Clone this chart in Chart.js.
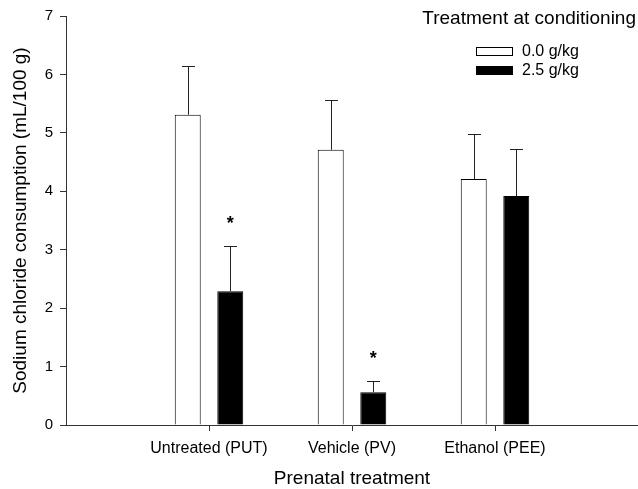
<!DOCTYPE html>
<html>
<head>
<meta charset="utf-8">
<script src="https://cdn.jsdelivr.net/npm/chart.js@4/dist/chart.umd.min.js"></script>
<style>
    body { margin: 0; background: #fff; }
    #wrap { width: 638px; height: 489px; }
</style>
</head>
<body>
<div id="wrap"><canvas id="salt-chart" width="638" height="489"></canvas></div>
<script>
// Dane
const categories = ['Untreated (PUT)', 'Vehicle (PV)', 'Ethanol (PEE)'];
const groupLabels = ['0.0 g/kg', '2.5 g/kg'];
const dose0 = [5.31, 4.71, 4.21];
const dose0Err = [0.84, 0.86, 0.77];
const dose25 = [2.29, 0.56, 3.92];
const dose25Err = [0.77, 0.19, 0.80];
const dose25Star = [true, true, false];
const yTicks = [0, 1, 2, 3, 4, 5, 6, 7];

const FONT = "'Liberation Sans', Arial, sans-serif";
const INK = '#000';
const AXIS = '#333';

Chart.defaults.font.family = FONT;
Chart.defaults.color = INK;

function toPoints(values) {
    return values.map((v, i) => ({ x: i + 1, y: v }));
}

// Slupki bledow (tylko gorne) i gwiazdki
const errorBars = {
    id: 'errorBars',
    afterDatasetsDraw(chart) {
        const ctx = chart.ctx;
        const y = chart.scales.y;
        const errs = [dose0Err, dose25Err];
        ctx.save();
        ctx.strokeStyle = '#222';
        ctx.lineWidth = 1;
        chart.data.datasets.forEach((ds, di) => {
            const meta = chart.getDatasetMeta(di);
            meta.data.forEach((bar, i) => {
                const top = y.getPixelForValue(ds.data[i].y + errs[di][i]);
                const x = Math.round(bar.x) + 0.5;
                ctx.beginPath();
                ctx.moveTo(x, bar.y);
                ctx.lineTo(x, Math.round(top) + 0.5);
                ctx.moveTo(x - 6.5, Math.round(top) + 0.5);
                ctx.lineTo(x + 6.5, Math.round(top) + 0.5);
                ctx.stroke();
                if (di === 1 && dose25Star[i]) {
                    ctx.fillStyle = INK;
                    ctx.font = 'bold 18px ' + FONT;
                    ctx.textAlign = 'center';
                    ctx.textBaseline = 'alphabetic';
                    ctx.fillText('*', bar.x, top - 27 + 10);
                }
            });
        });
        ctx.restore();
    }
};

// Legenda w prawym gornym rogu
const legendBox = {
    id: 'legendBox',
    afterDraw(chart) {
        const ctx = chart.ctx;
        ctx.save();
        ctx.fillStyle = INK;
        ctx.font = '19px ' + FONT;
        ctx.textAlign = 'right';
        ctx.textBaseline = 'middle';
        ctx.fillText('Treatment at conditioning', 636, 19);

        ctx.font = '16px ' + FONT;
        ctx.textAlign = 'left';
        chart.data.datasets.forEach((ds, i) => {
            const top = 47 + i * 19;
            ctx.fillStyle = ds.backgroundColor;
            ctx.fillRect(476, top, 37, 9);
            ctx.strokeStyle = INK;
            ctx.lineWidth = 1;
            ctx.strokeRect(476.5, top + 0.5, 36, 8);
            ctx.fillStyle = INK;
            ctx.fillText(ds.label, 522, top + 5);
        });
        ctx.restore();
    }
};

document.addEventListener('DOMContentLoaded', () => {
    const ctx = document.getElementById('salt-chart').getContext('2d');

    new Chart(ctx, {
        type: 'bar',
        data: {
            datasets: [{
                label: groupLabels[0],
                data: toPoints(dose0),
                backgroundColor: '#fff',
                borderColor: INK,
                borderWidth: 1,
                categoryPercentage: 0.595,
                barPercentage: 0.61
            }, {
                label: groupLabels[1],
                data: toPoints(dose25),
                backgroundColor: '#000',
                borderColor: INK,
                borderWidth: 1,
                categoryPercentage: 0.595,
                barPercentage: 0.61
            }]
        },
        options: {
            responsive: false,
            animation: false,
            layout: { padding: { top: 14, left: 0, right: 0, bottom: 0 } },
            plugins: {
                legend: { display: false },
                tooltip: { enabled: false }
            },
            scales: {
                x: {
                    type: 'linear',
                    min: 0,
                    max: 4,
                    offset: false,
                    afterFit(scale) { scale.height = 64; },
                    afterBuildTicks(scale) {
                        scale.ticks = categories.map((c, i) => ({ value: i + 1 }));
                    },
                    grid: {
                        offset: false,
                        drawOnChartArea: false,
                        drawTicks: true,
                        tickLength: 6,
                        color: AXIS
                    },
                    border: { display: true, color: AXIS, width: 1 },
                    ticks: {
                        maxRotation: 0,
                        autoSkip: false,
                        padding: 8,
                        font: { size: 16 },
                        callback: (v) => categories[v - 1]
                    },
                    title: {
                        display: true,
                        text: 'Prenatal treatment',
                        font: { size: 19 },
                        padding: { top: 0, bottom: -1 }
                    }
                },
                y: {
                    min: 0,
                    max: 7,
                    afterFit(scale) { scale.width = 66; },
                    afterBuildTicks(scale) {
                        scale.ticks = yTicks.map(v => ({ value: v }));
                    },
                    grid: {
                        drawOnChartArea: false,
                        drawTicks: true,
                        tickLength: 6,
                        color: AXIS
                    },
                    border: { display: true, color: AXIS, width: 1 },
                    ticks: {
                        padding: 7,
                        font: { size: 15 }
                    },
                    title: {
                        display: true,
                        text: 'Sodium chloride consumption (mL/100 g)',
                        font: { size: 19 },
                        padding: { top: 9, bottom: 0 }
                    }
                }
            }
        },
        plugins: [errorBars, legendBox]
    });
});
</script>
</body>
</html>
